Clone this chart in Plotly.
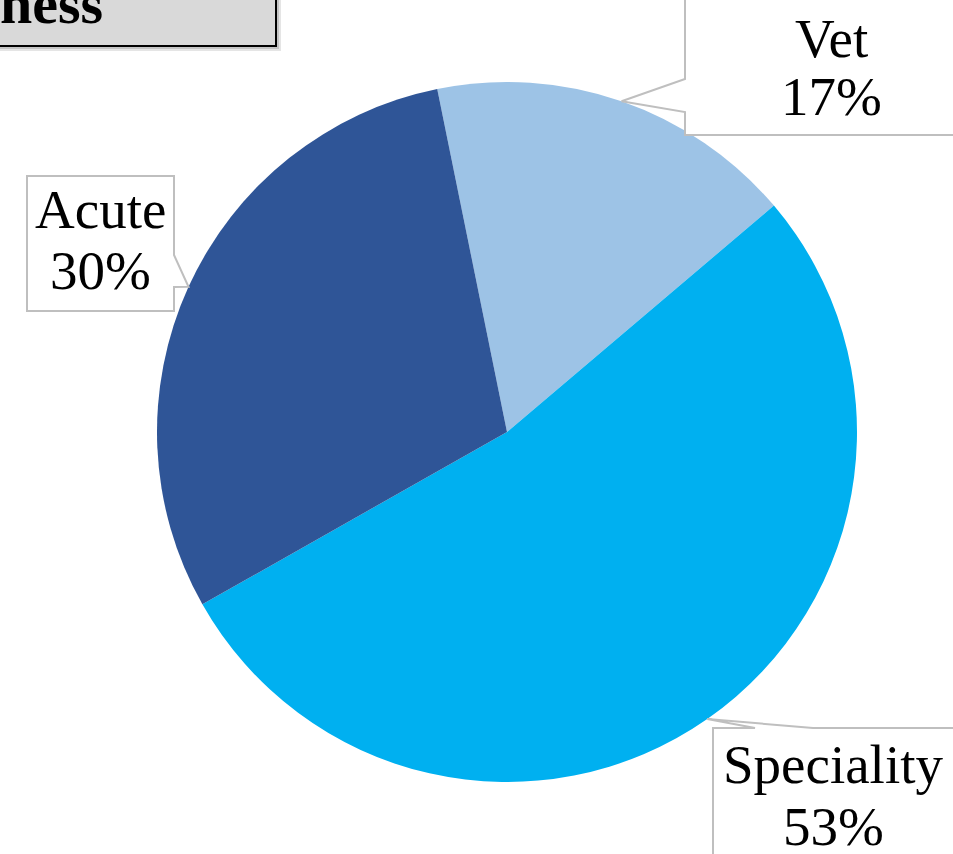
import math
import plotly.graph_objects as go

# ---- data ----
categories = ["Vet", "Speciality", "Acute"]
values = [17, 53, 30]
pct_labels = ["17%", "53%", "30%"]
colors = ["#9DC3E6", "#00B0F0", "#2F5597"]
title_fragment = "ness"

W, H = 953, 854
ROT = -11.5  # degrees, start angle of first slice (clockwise from 12 o'clock)

# pie geometry in pixels (layout)
CX, CY, R = 507, 432, 350
dom_x = [(CX - R) / W, (CX + R) / W]
dom_y = [1 - (CY + R) / H, 1 - (CY - R) / H]


def X(px):
    return px / W


def Y(py):
    return 1 - py / H


def path(points, close=True):
    s = "M " + " L ".join(f"{X(a):.5f},{Y(b):.5f}" for a, b in points)
    return s + (" Z" if close else "")


# tips of callouts: slice mid-angle on the pie edge
total = sum(values)
tips = []
cum = 0
for v in values:
    mid = ROT + 360 * (cum + v / 2) / total
    a = math.radians(mid)
    tips.append((CX + R * math.sin(a), CY - R * math.cos(a)))
    cum += v

fig = go.Figure(
    go.Pie(
        labels=categories,
        values=values,
        sort=False,
        direction="clockwise",
        rotation=ROT,
        marker=dict(colors=colors, line=dict(width=0)),
        textinfo="none",
        hoverinfo="label+percent",
        domain=dict(x=dom_x, y=dom_y),
        showlegend=False,
    )
)

border = "#BFBFBF"
shapes = []
# Vet callout (box at top right, pointer on its left edge)
tv = tips[0]
shapes.append(dict(type="path", xref="paper", yref="paper",
                   path=path([(685, -10), (685, 79), tv, (685, 112), (685, 135), (970, 135), (970, -10)]),
                   fillcolor="white", line=dict(color=border, width=2), layer="above"))
# Speciality callout (box at bottom right, pointer on its top edge)
ts = tips[1]
shapes.append(dict(type="path", xref="paper", yref="paper",
                   path=path([(713, 870), (713, 728), (755, 728), ts, (813, 728), (970, 728), (970, 870)]),
                   fillcolor="white", line=dict(color=border, width=2), layer="above"))
# Acute callout (box at left, pointer on its right edge)
ta = tips[2]
shapes.append(dict(type="path", xref="paper", yref="paper",
                   path=path([(27, 176), (174, 176), (174, 255), ta, (174, 287), (174, 311), (27, 311)]),
                   fillcolor="white", line=dict(color=border, width=2), layer="above"))

# title box (cut off at top-left) with shadow
shapes.append(dict(type="rect", xref="paper", yref="paper",
                   x0=X(-10), x1=X(281), y0=Y(-10), y1=Y(51),
                   fillcolor="rgba(0,0,0,0.10)", line=dict(width=0), layer="above"))
shapes.append(dict(type="rect", xref="paper", yref="paper",
                   x0=X(-10), x1=X(279), y0=Y(-10), y1=Y(49),
                   fillcolor="rgba(0,0,0,0.14)", line=dict(width=0), layer="above"))
shapes.append(dict(type="rect", xref="paper", yref="paper",
                   x0=X(-10), x1=X(276), y0=Y(-10), y1=Y(46),
                   fillcolor="#D9D9D9", line=dict(color="black", width=2), layer="above"))

FONT = "Liberation Serif, Times New Roman, serif"
FS = 55
DESC = 0.216


def label(text, cx, baseline, size=FS, bold=False, anchor="center"):
    t = f"<b>{text}</b>" if bold else text
    return dict(text=t, x=X(cx), y=Y(baseline + DESC * size), xref="paper", yref="paper",
                xanchor=anchor, yanchor="bottom", showarrow=False, borderpad=0,
                font=dict(family=FONT, size=size, color="black"))


annotations = [
    label(categories[0], 831, 58), label(pct_labels[0], 831, 116),
    label(categories[1], 833, 784), label(pct_labels[1], 833, 846),
    label(categories[2], 100, 229), label(pct_labels[2], 100, 290),
    label(title_fragment, -1, 24, size=58, bold=True, anchor="left"),
]

fig.update_layout(
    width=W, height=H,
    margin=dict(l=0, r=0, t=0, b=0),
    paper_bgcolor="white", plot_bgcolor="white",
    shapes=shapes, annotations=annotations,
)

fig.write_html("out.html", config={"displayModeBar": False},
               post_script="document.body.style.margin='0';document.body.style.overflow='hidden';")
